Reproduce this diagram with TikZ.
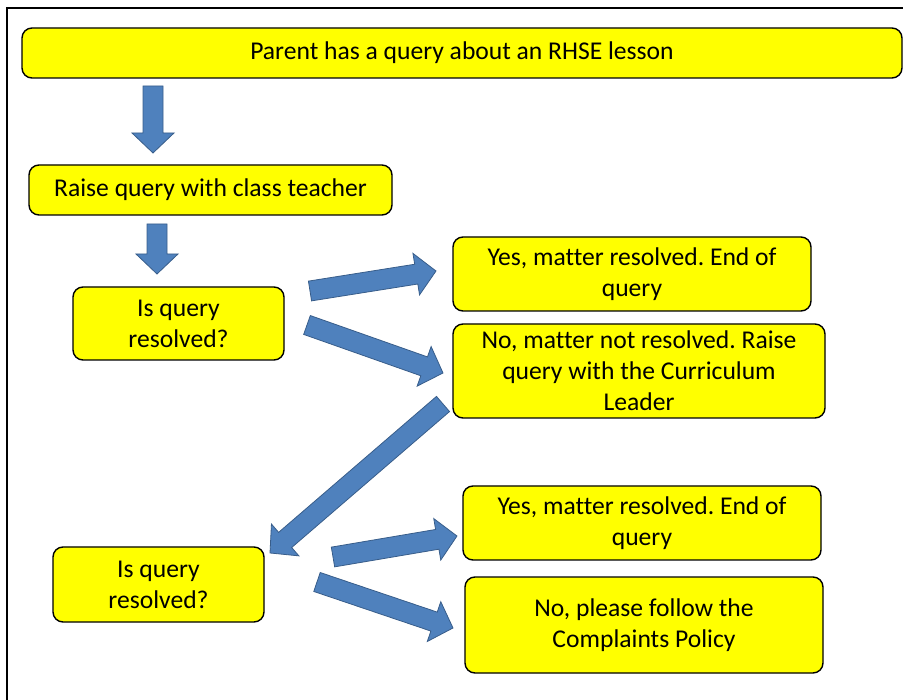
\documentclass[tikz,border=0pt]{standalone}
\usepackage{fontspec}
\setmainfont[Ligatures=NoCommon]{Carlito}
\usetikzlibrary{calc}
\definecolor{boxyellow}{rgb}{1,1,0}
\definecolor{arrowblue}{RGB}{79,129,189}
\definecolor{arrowedge}{RGB}{56,93,138}
\frenchspacing

% block arrow from #1 to #2
\newcommand\blockarrow[2]{%
  \draw[flowarrow] let \p1=(#1), \p2=(#2),
    \n1={atan2(\y2-\y1,\x2-\x1)}, \n2={veclen(\x2-\x1,\y2-\y1)} in
    {[shift={(\p1)},rotate=\n1]
      (0,-10) -- (\n2-20,-10) -- (\n2-20,-21) -- (\n2,0)
      -- (\n2-20,21) -- (\n2-20,10) -- (0,10) -- cycle};
}

\begin{document}
\begin{tikzpicture}[x=1pt,y=-1pt]
  \tikzstyle{stepbox}=[draw=black,line width=1.4pt,fill=boxyellow,rounded corners=10pt,
                       align=center,inner sep=0pt,font=\fontsize{25.6}{31}\selectfont]
  \tikzstyle{flowarrow}=[draw=arrowedge,line width=0.8pt,fill=arrowblue,line join=miter]

  \useasboundingbox (0,0) rectangle (903,700);
  \draw[line width=1.5pt] (7,8) rectangle (930,730);

  \node[stepbox,minimum width=880pt,minimum height=50pt] (parent)  at (462,53)    {Parent has a query about an RHSE lesson};
  \node[stepbox,minimum width=363pt,minimum height=50pt] (teacher) at (210.5,190) {Raise query with class teacher};
  \node[stepbox,minimum width=211pt,minimum height=73pt] (ask1)    at (178.5,323.5) {Is query\\resolved?};
  \node[stepbox,minimum width=358pt,minimum height=74pt] (yes1)    at (632,274)   {Yes, matter resolved. End of\\query};
  \node[stepbox,minimum width=372pt,minimum height=94pt] (no1)     at (639,371)   {No, matter not resolved. Raise\\query with the Curriculum\\Leader};
  \node[stepbox,minimum width=211pt,minimum height=75pt] (ask2)    at (158.5,584.5) {Is query\\resolved?};
  \node[stepbox,minimum width=358pt,minimum height=74pt] (yes2)    at (642,523)   {Yes, matter resolved. End of\\query};
  \node[stepbox,minimum width=358pt,minimum height=96pt] (no2)     at (644,625)   {No, please follow the\\Complaints Policy};

  \coordinate (a1s) at (153,86);  \coordinate (a1e) at (153,153);
  \coordinate (a2s) at (157,224); \coordinate (a2e) at (157,274);
  \coordinate (a3s) at (310,291); \coordinate (a3e) at (436,271);
  \coordinate (a4s) at (307,325); \coordinate (a4e) at (443,373);
  \coordinate (a5s) at (443,404); \coordinate (a5e) at (270,553);
  \coordinate (a6s) at (333,557); \coordinate (a6e) at (457,536);
  \coordinate (a7s) at (317,582); \coordinate (a7e) at (453,628);

  \blockarrow{a1s}{a1e}
  \blockarrow{a2s}{a2e}
  \blockarrow{a3s}{a3e}
  \blockarrow{a4s}{a4e}
  \blockarrow{a5s}{a5e}
  \blockarrow{a6s}{a6e}
  \blockarrow{a7s}{a7e}

\end{tikzpicture}
\end{document}
